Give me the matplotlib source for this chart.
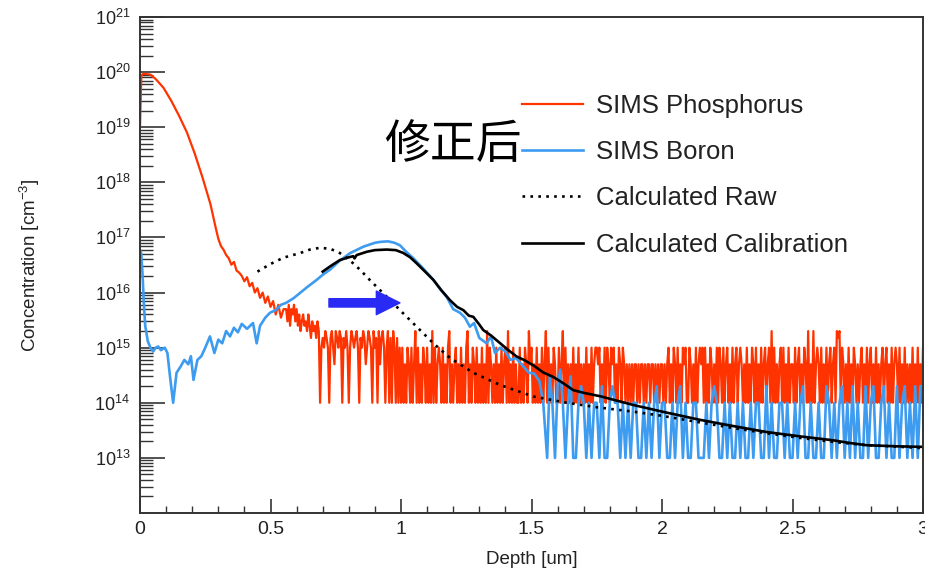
import numpy as np
import matplotlib
matplotlib.use("Agg")
import matplotlib.pyplot as plt
from matplotlib.ticker import LogLocator, MultipleLocator, LogFormatterSciNotation, NullFormatter, FuncFormatter

plt.rcParams['font.family'] = ['Liberation Sans', 'DejaVu Sans']
plt.rcParams['mathtext.fontset'] = 'custom'
plt.rcParams['mathtext.rm'] = 'Liberation Sans'
plt.rcParams['mathtext.it'] = 'Liberation Sans:italic'
plt.rcParams['mathtext.bf'] = 'Liberation Sans:bold'

# ---------------- data ----------------
# SIMS Phosphorus: smooth head (cm^-3)
P_head_x = [0.000, 0.005, 0.010, 0.020, 0.040, 0.060, 0.090, 0.120, 0.150, 0.180,
            0.210, 0.240, 0.270, 0.290, 0.300, 0.310, 0.320, 0.330, 0.340, 0.350,
            0.360, 0.370, 0.380, 0.390, 0.400, 0.410, 0.420, 0.430, 0.440, 0.450,
            0.460, 0.470, 0.480, 0.490, 0.500, 0.510, 0.520, 0.530, 0.540, 0.550]
P_head_c = [1.0e19, 8.5e19, 9.2e19, 9.3e19, 9.0e19, 7.5e19, 5.2e19, 3.0e19, 1.6e19, 8.0e18,
            3.3e18, 1.2e18, 4.0e17, 1.5e17, 9.5e16, 7.0e16, 6.0e16, 4.8e16, 4.2e16, 3.2e16,
            3.6e16, 2.5e16, 2.3e16, 2.0e16, 1.6e16, 1.9e16, 1.3e16, 1.5e16, 1.0e16, 1.2e16,
            8.0e15, 1.0e16, 6.5e15, 8.5e15, 5.5e15, 7.0e15, 4.0e15, 6.0e15, 3.5e15, 5.0e15]
# SIMS Phosphorus: noisy tail, 0.560 .. 3.000 um every 0.005 um.
# Each character is a level code; P_levels_u14 gives the level in units of 1e14 cm^-3.
P_levels_u14 = [1, 5, 10, 15, 20, 25, 30, 40, 50, 60]
P_tail_range = (0.56, 3.0)
P_tail_codes = (
    "86958796857467" "56475364536402"
    "3243203421" "4324303242" "0243234203" "2431243204" "2304134202" "4030420302"
    "0201021020" "1402010210" "2010402012" "1020102401" "0120102010" "2401021020" "1020104021"
    "0102010201" "2040102010" "0201021041" "2010201020" "1402010210" "0201402010" "1020102010"
    "1020102012" "2120102021" "0212010210" "2101010101" "1010110101" "1011010101" "1010120102"
    "1020102120" "0210102012" "1202010210" "1020210201" "2010201201" "2101020102" "1020102012"
    "0120402010" "1202010201" "1020120102" "1040104012" "1020102012" "0120434021" "0102010210"
    "1012010201" "2010201012" "0120102012" "1020102010" "10201020102"
)

# SIMS Boron: head (cm^-3)
B_head_x = [0.000, 0.005, 0.010, 0.015, 0.020, 0.030, 0.040, 0.050, 0.060, 0.070,
            0.080, 0.095, 0.105, 0.115, 0.127, 0.140, 0.155, 0.170, 0.185, 0.195,
            0.205, 0.220, 0.235, 0.250, 0.268, 0.285, 0.300, 0.315, 0.330, 0.345,
            0.360, 0.375, 0.390, 0.410, 0.433, 0.447, 0.460, 0.480, 0.498, 0.520,
            0.540, 0.560, 0.590, 0.613, 0.640, 0.677, 0.700, 0.728, 0.760, 0.805,
            0.856, 0.900, 0.920, 0.950, 0.975, 0.996, 1.020, 1.047, 1.080, 1.124,
            1.150, 1.175, 1.200, 1.226, 1.245, 1.264, 1.280, 1.300, 1.328, 1.345,
            1.360, 1.380, 1.400, 1.420, 1.440, 1.470, 1.490, 1.510, 1.530, 1.545]
B_head_c = [6.0e16, 5.0e16, 2.0e16, 6.0e15, 2.5e15, 1.3e15, 1.0e15, 8.5e14, 1.0e15, 1.05e15,
            9.0e14, 1.0e15, 8.0e14, 3.0e14, 1.0e14, 3.5e14, 4.5e14, 6.0e14, 5.0e14, 7.0e14,
            2.6e14, 6.0e14, 7.0e14, 1.0e15, 1.6e15, 8.0e14, 1.4e15, 1.2e15, 2.0e15, 1.6e15,
            2.3e15, 1.9e15, 2.7e15, 2.2e15, 2.8e15, 1.2e15, 2.5e15, 3.5e15, 4.3e15, 4.8e15,
            6.0e15, 6.5e15, 8.0e15, 9.8e15, 1.25e16, 1.7e16, 2.1e16, 2.6e16, 3.6e16, 5.2e16,
            6.8e16, 8.0e16, 8.3e16, 8.5e16, 8.0e16, 7.2e16, 5.5e16, 4.2e16, 2.9e16, 1.7e16,
            1.15e16, 8.3e15, 5.0e15, 4.3e15, 3.5e15, 2.4e15, 2.8e15, 1.5e15, 1.2e15, 1.6e15,
            8.0e14, 1.0e15, 8.5e14, 6.0e14, 6.5e14, 4.5e14, 3.5e14, 3.4e14, 2.5e14, 1.0e14]
# SIMS Boron: noisy tail, 1.56 .. 3.00 um every 0.01 um, in units of 1e13 cm^-3
B_tail_range = (1.56, 3.0)
B_tail_u13 = [1, 30, 10, 1, 20, 40, 10, 1, 10, 30, 1, 1, 10, 20, 10,
              1, 10, 1, 10, 10, 1, 20, 1, 1, 10, 20, 10, 10, 1, 10, 1, 10, 1, 10, 10,
              1, 1, 10, 1, 10, 1, 10, 20, 1, 10, 10, 1, 1, 10, 1, 10, 20, 1, 10, 1,
              1, 10, 10, 1, 1, 1, 10, 1, 10, 20, 10, 1, 1, 10, 1, 10, 1, 1, 10, 1,
              10, 1, 1, 10, 1, 10, 10, 1, 1, 20, 1, 10, 1, 1, 10, 10, 1, 10, 1, 1,
              10, 1, 10, 20, 1, 1, 10, 1, 1, 10, 1, 1, 20, 10, 1, 10, 1, 10, 20, 1,
              10, 1, 20, 1, 10, 1, 1, 20, 1, 10, 20, 1, 1, 10, 20, 1, 10, 1, 1, 20,
              1, 10, 20, 1, 10, 1, 20, 1, 20, 20]

# Calculated Raw
Raw_x = [0.45, 0.50, 0.55, 0.613, 0.65, 0.69, 0.73, 0.766, 0.80, 0.843, 0.88, 0.92, 0.96, 0.996,
         1.06, 1.124, 1.188, 1.277, 1.38, 1.507, 1.635, 1.75, 1.89, 2.0, 2.146, 2.27, 2.40, 2.53,
         2.655, 2.784, 2.9, 3.0]
Raw_c = [2.4e16, 3.3e16, 4.3e16, 5.2e16, 6.0e16, 6.5e16, 6.2e16, 5.2e16, 4.0e16, 2.6e16, 1.7e16,
         1.1e16, 7.2e15, 4.8e15, 2.4e15, 1.2e15, 6.5e14, 3.5e14, 2.1e14, 1.3e14, 1.0e14, 8.3e13,
         6.9e13, 5.8e13, 4.4e13, 3.5e13, 2.8e13, 2.3e13, 1.95e13, 1.7e13, 1.6e13, 1.5e13]

# Calculated Calibration
Cal_x = [0.70, 0.73, 0.766, 0.80, 0.817, 0.822, 0.83, 0.869, 0.90, 0.945, 0.98, 1.008, 1.035,
         1.06, 1.09, 1.124, 1.155, 1.188, 1.215, 1.239, 1.26, 1.277, 1.30, 1.315, 1.345, 1.38,
         1.41, 1.443, 1.47, 1.507, 1.545, 1.583, 1.62, 1.66, 1.70, 1.762, 1.89, 2.0, 2.146, 2.27,
         2.40, 2.53, 2.655, 2.72, 2.784, 2.9, 3.0]
Cal_logc = [16.38, 16.48, 16.59, 16.64, 16.66, 16.62, 16.68, 16.74, 16.77, 16.78, 16.77, 16.72,
            16.64, 16.53, 16.39, 16.23, 16.04, 15.86, 15.74, 15.68, 15.58, 15.56, 15.42, 15.32,
            15.22, 15.08, 14.96, 14.84, 14.78, 14.68, 14.55, 14.47, 14.36, 14.23, 14.18, 14.12,
            13.96, 13.84, 13.69, 13.58, 13.47, 13.39, 13.32, 13.27, 13.23, 13.21, 13.2]

labels = ['SIMS Phosphorus', 'SIMS Boron', 'Calculated Raw', 'Calculated Calibration']
annotation = '修正后'

# ---------------- assemble ----------------
P_tail_c = np.array([P_levels_u14[int(ch)] for ch in P_tail_codes]) * 1e14
P_tail_x = np.linspace(P_tail_range[0], P_tail_range[1], len(P_tail_c))
P_x = np.concatenate([P_head_x, P_tail_x])
P_c = np.concatenate([P_head_c, P_tail_c])
B_tail_x = np.linspace(B_tail_range[0], B_tail_range[1], len(B_tail_u13))
B_x = np.concatenate([B_head_x, B_tail_x])
B_c = np.concatenate([B_head_c, np.array(B_tail_u13) * 1e13])
Cal_c = 10.0 ** np.array(Cal_logc)

red = '#ff3300'
blue = '#3d9bf0'

fig = plt.figure(figsize=(9.25, 5.69), dpi=100)
ax = fig.add_axes([140/925, 1 - 513/569, (923-140)/925, (513-17)/569])

l1, = ax.plot(P_x, P_c, color=red, lw=1.6, label=labels[0])
l2, = ax.plot(B_x, B_c, color=blue, lw=1.9, label=labels[1])
l3, = ax.plot(Raw_x, Raw_c, color='black', lw=1.9, ls=(0, (1, 2)), label=labels[2])
l4, = ax.plot(Cal_x, Cal_c, color='black', lw=1.9, label=labels[3])

ax.set_yscale('log')
ax.set_xlim(0, 3)
ax.set_ylim(1e12, 1e21)

ax.yaxis.set_major_locator(LogLocator(base=10, subs=(1.0,), numticks=20))
ax.yaxis.set_minor_locator(LogLocator(base=10, subs=np.arange(2, 10), numticks=20))
ax.yaxis.set_minor_formatter(NullFormatter())
ax.yaxis.set_major_formatter(LogFormatterSciNotation())
ax.set_yticks([1e13, 1e14, 1e15, 1e16, 1e17, 1e18, 1e19, 1e20, 1e21])
ax.xaxis.set_major_locator(MultipleLocator(0.5))
ax.xaxis.set_minor_locator(MultipleLocator(0.1))
ax.xaxis.set_major_formatter(FuncFormatter(lambda v, p: f'{v:g}'))

ax.tick_params(axis='y', which='major', direction='in', length=18, width=1.2, labelsize=13, pad=7,
               left=True, right=False, color='#333333', labelcolor='#222222')
ax.tick_params(axis='y', which='minor', direction='in', length=9, width=1.0, left=True, right=False,
               color='#333333')
ax.tick_params(axis='x', which='major', direction='in', length=10, width=1.2, labelsize=14, pad=6,
               bottom=True, top=False, color='#333333', labelcolor='#222222')
ax.tick_params(axis='x', which='minor', direction='in', length=5, width=1.0, bottom=True, top=False,
               color='#333333')
for s in ax.spines.values():
    s.set_linewidth(1.4)
    s.set_color('#333333')

ax.set_xlabel('Depth [um]', fontsize=13.5, color='#222222')
ax.set_ylabel('Concentration [cm$^{-3}$]', fontsize=13.5, color='#222222')
ax.xaxis.set_label_coords(0.5, -0.076)
ax.yaxis.set_label_coords(-0.125, 0.5)

fig.legend(handles=[l1, l2, l3, l4], loc='upper left', bbox_to_anchor=(512/925, 1 - 84/569),
           frameon=False, fontsize=18.5, handlelength=2.35, handletextpad=0.5, labelspacing=0.86,
           borderaxespad=0, labelcolor='#222222')

ax.annotate('', xy=(0.996, 6.5e15), xytext=(0.724, 6.5e15),
            arrowprops=dict(arrowstyle='simple,head_length=0.85,head_width=0.85,tail_width=0.3',
                            color='#2a2af5', shrinkA=0, shrinkB=0, mutation_scale=20))

fig.text(384/925, 1 - 145/569, annotation, fontsize=33, va='center', ha='left',
         family=['Noto Sans CJK SC', 'DejaVu Sans'])

fig.savefig('out.png', dpi=100)
